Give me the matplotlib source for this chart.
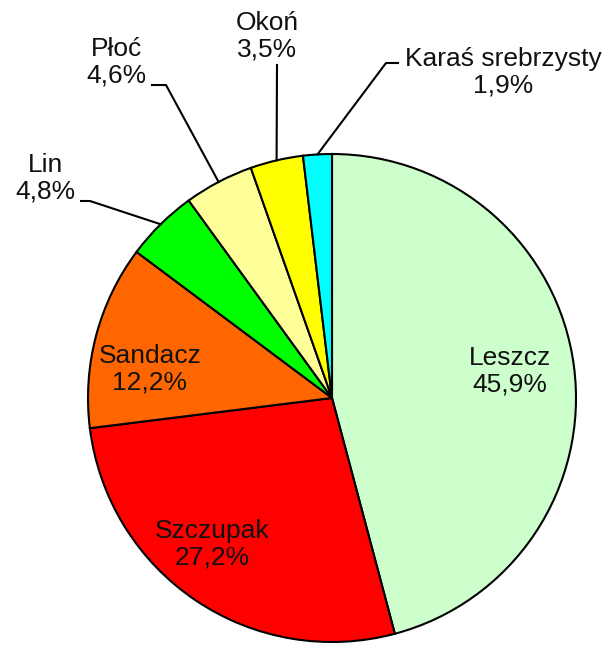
import numpy as np
import matplotlib.pyplot as plt

plt.rcParams['font.family'] = ['Liberation Sans', 'DejaVu Sans']

species = ['Leszcz', 'Szczupak', 'Sandacz', 'Lin', 'Płoć', 'Okoń', 'Karaś srebrzysty']
shares = [45.9, 27.2, 12.2, 4.8, 4.6, 3.5, 1.9]
colors = ['#CCFFCC', '#FF0000', '#FF6600', '#00FF00', '#FFFF99', '#FFFF00', '#00FFFF']

# pie centre and radius in pixels, used to place labels by pixel position
CX, CY, R = 332, 398, 244
W, H = 606, 650


def px(x, y):
    return (x - CX) / R, (CY - y) / R


fig = plt.figure(figsize=(W / 100, H / 100), dpi=100)
ax = fig.add_axes([0, 0, 1, 1])

wedges, _ = ax.pie(shares, colors=colors, startangle=90, counterclock=False,
                   radius=1, center=(0, 0), frame=True,
                   wedgeprops=dict(edgecolor='black', linewidth=1.5))
ax.axis('off')
ax.set_aspect('equal')
ax.set_xlim(px(0, 0)[0], px(W, 0)[0])
ax.set_ylim(px(0, H)[1], px(0, 0)[1])

txt = dict(fontsize=19, ha='center', va='center', color='#111111', linespacing=1.15)


def label(i):
    return f"{species[i]}\n{shares[i]:.1f}%".replace('.', ',')


# labels inside the large slices
inside = {0: (510, 371), 1: (212, 544), 2: (150, 369)}
for i, (x, y) in inside.items():
    ax.text(*px(x, y), label(i), **txt)

# outside labels with leader lines: text centre, elbow point, line end
outside = {
    3: ((45, 178), (90, 201), (81, 201)),
    4: ((116, 62), (166, 85), (152, 85)),
    5: ((267, 36), (277, 65), (277, 65)),
    6: ((503, 72), (386, 63), (398, 63)),
}
for i, (tpos, elbow, end) in outside.items():
    w = wedges[i]
    ang = np.deg2rad((w.theta1 + w.theta2) / 2)
    x0, y0 = np.cos(ang), np.sin(ang)
    ex, ey = px(*elbow)
    fx, fy = px(*end)
    ax.plot([x0, ex, fx], [y0, ey, fy], color='black', linewidth=1.5)
    ax.text(*px(*tpos), label(i), **txt)

fig.savefig('out.png', dpi=100)
